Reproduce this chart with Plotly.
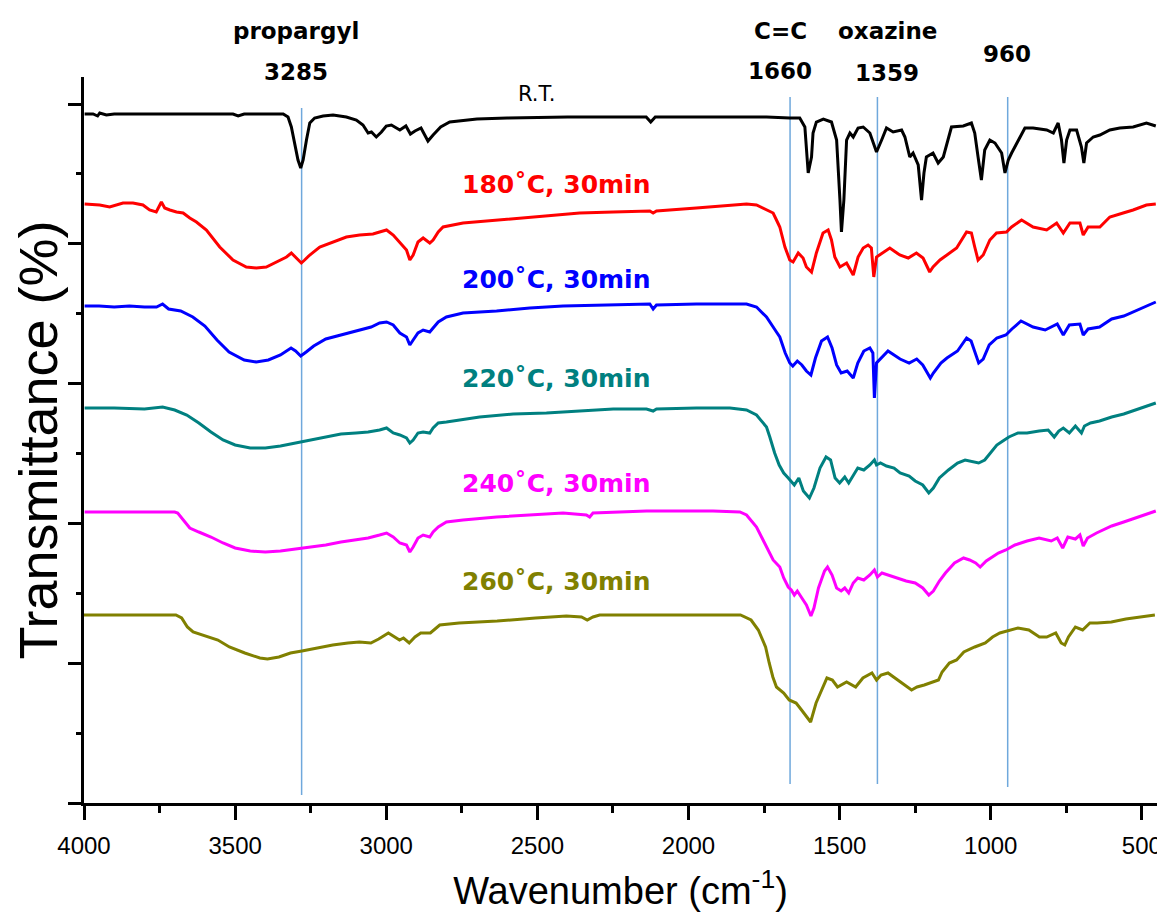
import plotly.graph_objects as go

# ---------------- data (wavenumber cm-1, offset transmittance in arbitrary units) -------------
rt_wn = [3998, 3970, 3955, 3948, 3926, 3900, 3700, 3507, 3490, 3470, 3341, 3325, 3314, 3303, 3292, 3283, 3275, 3264,
         3253, 3237, 3209, 3176, 3132, 3099, 3077, 3060, 3049, 3033, 3016, 3000, 2983, 2955, 2935, 2920, 2905, 2885,
         2862, 2845, 2820, 2790, 2700, 2600, 2400, 2200, 2140, 2125, 2110, 1963, 1819, 1742, 1665, 1632, 1615, 1604,
         1593, 1588, 1577, 1554, 1527, 1510, 1499, 1494, 1486, 1477, 1466, 1455, 1439, 1422, 1400, 1378, 1361, 1345,
         1323, 1295, 1284, 1268, 1257, 1240, 1229, 1221, 1213, 1191, 1174, 1157, 1130, 1091, 1064, 1053, 1042, 1031,
         1020, 1003, 986, 964, 953, 942, 931, 904, 887, 860, 815, 793, 777, 766, 758, 749, 738, 716, 700, 692, 683,
         661, 639, 606, 573, 529, 485, 454]
rt_t = [689, 689, 687, 690, 688, 689, 689, 689, 687, 689, 689, 686, 676, 660, 643, 635, 643, 663,
        680, 685, 687, 688, 686, 683, 678, 670, 671, 666, 671, 677, 678, 673, 677, 669, 672, 675,
        662, 668, 676, 681, 684, 685, 686, 686, 686, 681, 686, 686, 686, 686, 685, 685, 676, 630,
        646, 670, 681, 684, 681, 663, 603, 571, 603, 663, 670, 666, 675, 676, 670, 651, 663, 675,
        671, 673, 666, 646, 650, 638, 603, 630, 646, 650, 640, 646, 676, 677, 680, 670, 646, 623,
        653, 663, 660, 650, 630, 643, 650, 666, 675, 675, 673, 670, 680, 663, 640, 663, 673, 673, 656, 640, 660,
        666, 668, 673, 675, 676, 680, 677]

c180_wn = [3998, 3948, 3915, 3871, 3838, 3805, 3783, 3761, 3744, 3733, 3716, 3694, 3672, 3650, 3628, 3595, 3551, 3507,
           3463, 3430, 3397, 3364, 3330, 3314, 3297, 3281, 3270, 3253, 3220, 3176, 3132, 3088, 3044, 3022, 2999, 2977,
           2955, 2933, 2922, 2911, 2895, 2878, 2856, 2845, 2828, 2812, 2746, 2635, 2525, 2360, 2249, 2128, 2117, 2106,
           1974, 1863, 1808, 1775, 1742, 1720, 1709, 1698, 1681, 1665, 1654, 1637, 1621, 1610, 1593, 1577, 1555, 1538,
           1527, 1516, 1499, 1477, 1455, 1439, 1422, 1406, 1395, 1387, 1378, 1334, 1301, 1273, 1246, 1224, 1202, 1191,
           1168, 1146, 1113, 1080, 1064, 1053, 1042, 1025, 1003, 981, 948, 931, 898, 860, 815, 782, 760, 738, 705, 694,
           678, 639, 606, 562, 529, 485, 454]
c180_t = [599, 598, 596, 600, 600, 598, 593, 591, 601, 595, 593, 591, 590, 585, 581, 573, 556, 543,
          536, 535, 536, 541, 546, 550, 545, 540, 543, 548, 556, 561, 566, 568, 569, 571, 573, 568,
          561, 553, 543, 548, 561, 565, 560, 563, 571, 576, 580, 583, 586, 590, 591, 592, 590, 592,
          595, 598, 599, 598, 593, 590, 583, 576, 556, 543, 541, 550, 545, 536, 531, 550, 570, 573,
          563, 546, 536, 540, 528, 546, 555, 558, 555, 526, 546, 555, 548, 545, 550, 545, 531, 536,
          543, 548, 555, 571, 570, 556, 543, 548, 563, 570, 571, 576, 583, 576, 573, 580, 570, 580, 580, 568,
          576, 576, 586, 590, 593, 598, 599]

c200_wn = [3998, 3950, 3900, 3850, 3800, 3760, 3740, 3720, 3680, 3640, 3600, 3560, 3520, 3470, 3430, 3390, 3350, 3315,
           3300, 3283, 3265, 3240, 3200, 3150, 3100, 3050, 3022, 2999, 2977, 2955, 2933, 2922, 2911, 2895, 2878, 2856,
           2845, 2828, 2801, 2746, 2635, 2525, 2415, 2305, 2194, 2128, 2117, 2106, 1974, 1863, 1808, 1775, 1742, 1709,
           1698, 1680, 1665, 1655, 1640, 1625, 1610, 1595, 1580, 1560, 1540, 1525, 1510, 1495, 1475, 1455, 1440, 1420,
           1400, 1390, 1385, 1378, 1340, 1300, 1270, 1245, 1225, 1200, 1190, 1165, 1145, 1110, 1080, 1065, 1050, 1040,
           1025, 1005, 980, 950, 930, 900, 860, 820, 780, 760, 740, 705, 694, 678, 640, 600, 560, 520, 490, 454]
c200_t = [497, 497, 496, 497, 496, 496, 499, 494, 492, 486, 477, 463, 451, 443, 441, 443, 448, 455,
          452, 447, 451, 457, 464, 468, 472, 476, 480, 481, 478, 470, 466, 458, 463, 470, 473, 471,
          475, 481, 486, 490, 492, 495, 497, 498, 499, 499, 494, 498, 499, 499, 499, 496, 486, 471,
          466, 450, 440, 437, 442, 438, 432, 428, 445, 462, 466, 455, 438, 430, 432, 425, 440, 452,
          455, 450, 405, 440, 452, 444, 440, 444, 438, 425, 430, 440, 445, 452, 465, 462, 450, 440,
          444, 458, 465, 468, 474, 482, 476, 473, 479, 468, 478, 479, 468, 474, 476, 484, 487, 492, 496, 501]

c220_wn = [3998, 3900, 3800, 3740, 3700, 3660, 3620, 3580, 3540, 3500, 3450, 3400, 3350, 3300, 3250, 3200, 3150, 3100,
           3060, 3022, 2999, 2977, 2955, 2933, 2922, 2911, 2895, 2878, 2856, 2845, 2828, 2801, 2691, 2580, 2470, 2360,
           2249, 2139, 2117, 2106, 1974, 1863, 1808, 1775, 1742, 1731, 1715, 1700, 1685, 1670, 1660, 1650, 1635, 1620,
           1600, 1585, 1565, 1545, 1530, 1515, 1500, 1483, 1470, 1455, 1440, 1420, 1400, 1385, 1378, 1365, 1345, 1320,
           1300, 1270, 1250, 1225, 1205, 1190, 1170, 1140, 1110, 1085, 1060, 1040, 1020, 1000, 980, 960, 940, 910, 880,
           840, 810, 790, 775, 760, 740, 720, 700, 690, 670, 640, 600, 560, 520, 480, 454]
c220_t = [395, 395, 394, 396, 393, 388, 380, 371, 363, 358, 355, 355, 357, 360, 363, 366, 369, 370,
          371, 373, 375, 370, 368, 365, 360, 363, 370, 371, 370, 375, 380, 381, 386, 389, 390, 392,
          394, 394, 392, 394, 395, 395, 393, 388, 376, 366, 350, 338, 330, 325, 322, 318, 325, 312,
          305, 315, 335, 346, 343, 325, 320, 326, 320, 328, 335, 333, 338, 343, 338, 340, 337, 335,
          330, 327, 322, 318, 310, 315, 325, 333, 340, 343, 341, 340, 343, 350, 358, 362, 366, 370, 370,
          372, 373, 366, 372, 375, 370, 377, 370, 377, 380, 382, 386, 389, 393, 397, 400]

c240_wn = [3998, 3800, 3700, 3690, 3670, 3650, 3620, 3580, 3540, 3500, 3450, 3400, 3350, 3300, 3250, 3200, 3150, 3100,
           3060, 3022, 2999, 2977, 2955, 2933, 2922, 2911, 2895, 2878, 2856, 2845, 2828, 2801, 2746, 2635, 2525, 2415,
           2338, 2327, 2316, 2249, 2139, 2029, 1919, 1830, 1808, 1775, 1742, 1720, 1698, 1685, 1670, 1660, 1650, 1640,
           1625, 1610, 1595, 1585, 1570, 1550, 1540, 1525, 1510, 1495, 1483, 1470, 1455, 1440, 1420, 1400, 1385, 1375,
           1360, 1340, 1310, 1280, 1250, 1225, 1205, 1190, 1170, 1150, 1120, 1090, 1070, 1050, 1035, 1015, 1000, 975,
           950, 920, 880, 840, 800, 780, 762, 745, 720, 705, 694, 680, 650, 600, 560, 520, 480, 454]
c240_t = [291, 291, 291, 290, 282, 275, 271, 266, 260, 255, 252, 251, 252, 254, 256, 258, 261, 263,
          265, 268, 270, 266, 260, 258, 251, 256, 265, 268, 266, 271, 276, 281, 283, 286, 288, 290,
          288, 286, 290, 291, 292, 292, 292, 291, 288, 276, 256, 243, 236, 225, 216, 213, 208, 212,
          205, 198, 187, 195, 215, 232, 236, 228, 215, 212, 215, 210, 220, 225, 223, 228, 233, 226,
          230, 228, 225, 222, 220, 215, 208, 212, 222, 230, 240, 245, 243, 240, 236, 242, 245, 250,
          253, 258, 262, 265, 262, 265, 255, 266, 264, 268, 257, 265, 270, 277, 281, 285, 289, 292]

c260_wn = [4000, 3696, 3677, 3658, 3639, 3595, 3557, 3519, 3468, 3418, 3393, 3355, 3317, 3279, 3228, 3177, 3127, 3089,
           3051, 3025, 2993, 2975, 2956, 2943, 2924, 2905, 2886, 2854, 2823, 2759, 2633, 2506, 2404, 2354, 2335, 2316,
           2294, 1828, 1793, 1769, 1745, 1733, 1721, 1709, 1685, 1667, 1644, 1626, 1596, 1578, 1560, 1542, 1524, 1507,
           1477, 1459, 1447, 1423, 1393, 1378, 1363, 1340, 1316, 1286, 1262, 1244, 1220, 1173, 1161, 1137, 1113, 1089,
           1053, 1018, 994, 970, 946, 910, 874, 839, 815, 785, 767, 755, 743, 720, 696, 672, 648, 601, 553, 505, 457]
c260_t = [188, 188, 185, 176, 171, 167, 163, 156, 150, 145, 144, 146, 150, 152, 155, 158, 160, 161,
          160, 164, 170, 167, 163, 165, 160, 166, 170, 170, 178, 180, 182, 185, 187, 186, 183, 186,
          188, 188, 183, 173, 156, 140, 126, 116, 110, 103, 100, 93, 81, 100, 113, 125, 123, 116,
          121, 118, 116, 125, 130, 123, 128, 130, 125, 118, 113, 116, 118, 123, 131, 140, 143, 151,
          156, 160, 166, 170, 172, 175, 173, 166, 166, 170, 160, 158, 166, 176, 173, 180, 180, 181, 184, 186, 188]

series_names = ["R.T.", "180˚C, 30min", "200˚C, 30min", "220˚C, 30min", "240˚C, 30min", "260˚C, 30min"]
series_wn = [rt_wn, c180_wn, c200_wn, c220_wn, c240_wn, c260_wn]
series_t = [rt_t, c180_t, c200_t, c220_t, c240_t, c260_t]
series_colors = ["#000000", "#FF0000", "#0000FF", "#008080", "#FF00FF", "#808000"]

# peak marker lines (wavenumber) and their labels
marker_wn = [3280, 1664, 1375, 944]
marker_names = ["propargyl", "C=C", "oxazine", ""]
marker_values = ["3285", "1660", "1359", "960"]

fig = go.Figure()
for name, wn, t, col in zip(series_names, series_wn, series_t, series_colors):
    fig.add_trace(go.Scatter(x=wn, y=t, mode="lines", name=name,
                             line=dict(color=col, width=3), showlegend=False))

# vertical marker lines
line_spans = [(8, 695), (19, 706), (19, 706), (16, 706)]
for w, (y0, y1) in zip(marker_wn, line_spans):
    fig.add_shape(type="line", x0=w, x1=w, y0=y0, y1=y1, xref="x", yref="y",
                  line=dict(color="#6FA8DC", width=1.5), layer="below")

lab_font = dict(family="DejaVu Sans", size=23, color="black", weight="bold")
ann = []
# top labels (placed above the plot area, paper y)
name_x = [3297, 1697, 1343]
for x, nm in zip(name_x, marker_names[:3]):
    ann.append(dict(x=x, y=1.063, xref="x", yref="paper", text=nm, showarrow=False, font=lab_font))
val_pos = [(3297, 1.007), (1697, 1.008), (1343, 1.006), (946, 1.032)]
for (x, y), v in zip(val_pos, marker_values):
    ann.append(dict(x=x, y=y, xref="x", yref="paper", text=v, showarrow=False, font=lab_font))
ann.append(dict(x=2500, y=709, xref="x", yref="y", text="R.T.", showarrow=False,
                font=dict(family="DejaVu Sans", size=21, color="black")))
# series labels
lab_pos = [(2439, 619), (2439, 524), (2439, 425), (2439, 320), (2439, 222)]
for (x, y), name, col in zip(lab_pos, series_names[1:], series_colors[1:]):
    ann.append(dict(x=x, y=y, xref="x", yref="y", text=name, showarrow=False,
                    font=dict(family="DejaVu Sans", size=25, color=col, weight="bold")))
for a in ann:
    a.update(xanchor="center", yanchor="middle")
fig.update_layout(annotations=ann)

axis_font = dict(family="Liberation Sans", size=24, color="black")
fig.update_xaxes(range=[4000, 450], showline=True, linecolor="black", linewidth=2.5,
                 ticks="outside", ticklen=14, tickwidth=2.5, tickcolor="black",
                 tick0=0, dtick=500, tickfont=axis_font, ticklabelstandoff=5,
                 minor=dict(dtick=250, ticks="outside", ticklen=7, tickwidth=2.5, tickcolor="black"),
                 showgrid=False, zeroline=False,
                 title=dict(text="Wavenumber (cm<sup>-1</sup>)", standoff=20,
                            font=dict(family="Liberation Sans", size=38, color="black")))
fig.update_yaxes(range=[0, 726], showline=True, linecolor="black", linewidth=2.5,
                 ticks="outside", ticklen=13, tickwidth=2.5, tickcolor="black",
                 tick0=0, dtick=139.8, showticklabels=False,
                 minor=dict(dtick=69.9, ticks="outside", ticklen=5, tickwidth=2.5, tickcolor="black"),
                 showgrid=False, zeroline=False,
                 title=dict(text="Transmittance (%)", standoff=16,
                            font=dict(family="Liberation Sans", size=54, color="black")))

fig.update_layout(width=1165, height=919, plot_bgcolor="white", paper_bgcolor="white",
                  margin=dict(l=76, r=16, t=69, b=124, autoexpand=False))

fig.write_html("out.html")
